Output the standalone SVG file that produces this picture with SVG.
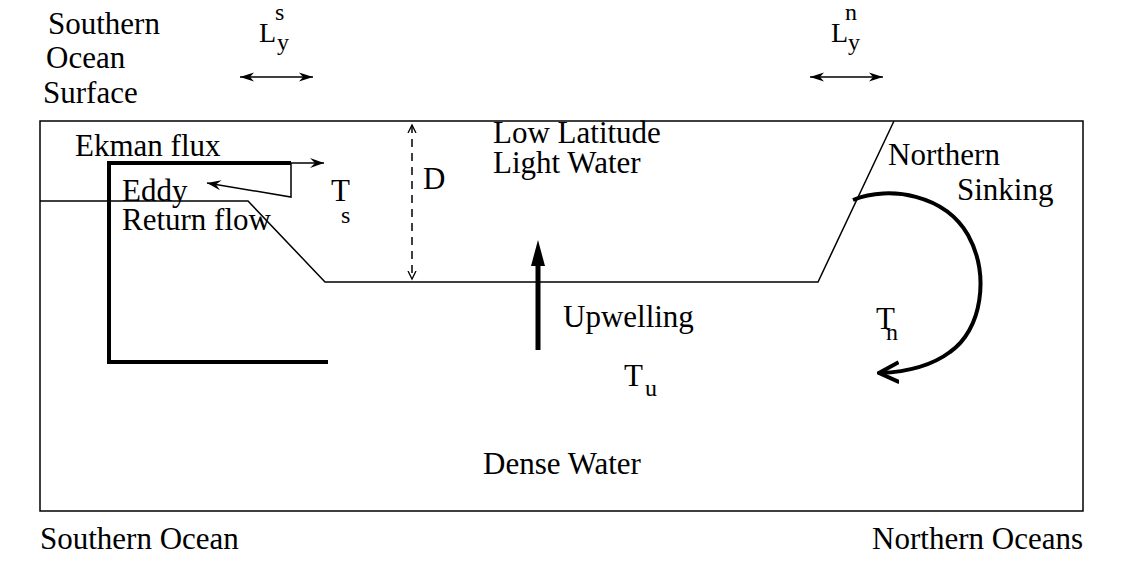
<svg xmlns="http://www.w3.org/2000/svg" width="1145" height="581" viewBox="0 0 1145 581">
<style>
text{font-family:"Liberation Serif","Tinos","Times New Roman","Times","Nimbus Roman","FreeSerif","DejaVu Serif",serif;fill:#000;font-size:31px}
.sub{font-size:24px}
.big{font-size:28px}
.thin{fill:none;stroke:#000;stroke-width:1.5}
.thick{fill:none;stroke:#000;stroke-width:4}
</style>
<defs>
<marker id="barb" markerWidth="16" markerHeight="12" refX="14" refY="6" orient="auto" markerUnits="userSpaceOnUse">
<path d="M0,1 L14,6 L0,11 L5,6 Z" fill="#000"/>
</marker>
<marker id="barbS" markerWidth="16" markerHeight="12" refX="14" refY="6" orient="auto-start-reverse" markerUnits="userSpaceOnUse">
<path d="M0,1.5 L14,6 L0,10.5 L4,6 Z" fill="#000"/>
</marker>
<marker id="vee" markerWidth="10" markerHeight="12" refX="8" refY="6" orient="auto-start-reverse" markerUnits="userSpaceOnUse">
<path d="M0,2 L8,6 L0,10" fill="none" stroke="#000" stroke-width="1.3"/>
</marker>
<marker id="curl" markerWidth="22" markerHeight="24" refX="19" refY="12" orient="auto" markerUnits="userSpaceOnUse">
<path d="M0,2 L20,12 L0,22" fill="none" stroke="#000" stroke-width="4"/>
</marker>
</defs>

<g id="frame">
<rect x="40" y="121" width="1043" height="390" class="thin"/>
</g>

<g id="interface">
<polyline points="40,201 248,201 325,282 818,282 894,121" class="thin"/>
</g>

<g id="connectors">
<line x1="240" y1="77" x2="313" y2="77" class="thin" stroke-width="1.2" marker-start="url(#barbS)" marker-end="url(#barbS)"/>
<line x1="810" y1="77" x2="883" y2="77" class="thin" stroke-width="1.2" marker-start="url(#barbS)" marker-end="url(#barbS)"/>
<line x1="412" y1="125" x2="412" y2="279" class="thin" stroke-width="1.2" stroke-dasharray="8,6" marker-start="url(#vee)" marker-end="url(#vee)"/>
<polyline points="328,362 109,362 109,163 291,163" class="thick"/>
<line x1="289" y1="163" x2="324" y2="163" class="thin" stroke-width="2.5" marker-end="url(#barb)"/>
<polyline points="291,163 291,197 207,183" class="thin" stroke-width="2.5" marker-end="url(#barb)"/>
<line x1="538" y1="350" x2="538" y2="262" stroke="#000" stroke-width="5"/>
<polygon points="538,240 545,266 531,266" fill="#000"/>
<path d="M853,200 C890,185 945,195 968,235 C990,275 982,330 950,352 C930,367 905,372 880,373" class="thick" marker-end="url(#curl)"/>
</g>

<g id="labels">
<text x="48" y="34">Southern</text>
<text x="46" y="68">Ocean</text>
<text x="43" y="103">Surface</text>
<g id="Ls">
<text x="259" y="42" class="big">L</text>
<text x="275" y="20" class="sub">s</text>
<text x="277" y="50" class="sub">y</text>
</g>
<g id="Ln">
<text x="831" y="42" class="big">L</text>
<text x="845" y="20" class="sub">n</text>
<text x="848" y="50" class="sub">y</text>
</g>
<text x="75" y="156">Ekman flux</text>
<text x="122" y="201">Eddy</text>
<text x="122" y="230">Return flow</text>
<g id="Ts">
<text x="331" y="201">T</text>
<text x="341" y="223" class="sub">s</text>
</g>
<text x="423" y="189">D</text>
<text x="493" y="143">Low Latitude</text>
<text x="493" y="173">Light Water</text>
<text x="888" y="165">Northern</text>
<text x="957" y="200">Sinking</text>
<text x="563" y="327">Upwelling</text>
<g id="Tu">
<text x="624" y="386">T</text>
<text x="645" y="396" class="sub">u</text>
</g>
<g id="Tn">
<text x="876" y="329">T</text>
<text x="886" y="340" class="sub">n</text>
</g>
<text x="483" y="474">Dense Water</text>
<text x="40" y="549">Southern Ocean</text>
<text x="1083" y="549" text-anchor="end">Northern Oceans</text>
</g>
</svg>
